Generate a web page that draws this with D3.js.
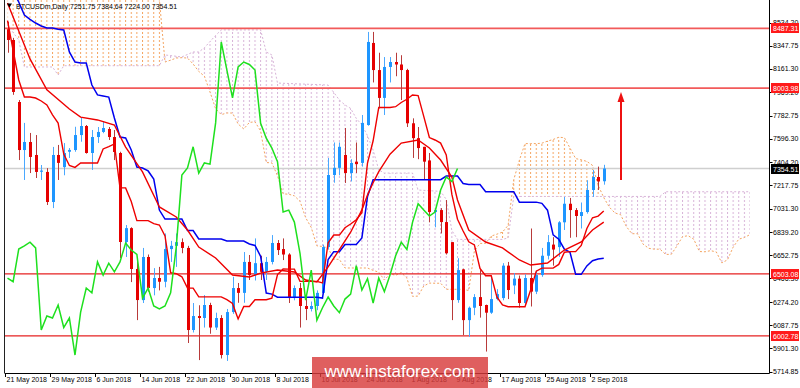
<!DOCTYPE html>
<html><head><meta charset="utf-8">
<script src="https://cdn.jsdelivr.net/npm/d3@7"></script>
<style>
html,body{margin:0;padding:0;background:#fff;}
svg{display:block;font-family:"Liberation Sans",Arial,sans-serif;}
</style></head><body>
<svg id="c" width="800" height="388"></svg>
<script>
const chartTitle = "BTCUSDm,Daily";
const firstDay = "2018-05-21";
const open = [8480,8393,7892,7504,7569,7464,7330,7327,7084,7464,
7366,7490,7504,7625,7698,7480,7609,7650,7674,7609,
7480,6761,6873,6543,6292,6640,6389,6470,6440,6704,
6730,6760,6713,6050,6163,6147,6252,6070,6147,5848,
6195,6389,6350,6600,6494,6590,6520,6600,6753,6704,
6660,6308,6389,6244,6220,6244,6350,6720,7302,7360,
7464,7318,7410,7400,7706,8369,8150,7925,8175,8215,
8195,8150,7720,7600,7530,7420,7003,7019,6922,6760,
6292,6540,6130,6230,6316,6252,6190,6300,6308,6570,
6410,6465,6268,6470,6360,6494,6650,6740,6720,6920,
7070,7019,6971,7003,7181,7286,7251.75];
const high = [8540,8410,7908,7723,7642,7625,7383,7358,7529,7545,
7560,7520,7692,7763,7706,7666,7690,7738,7690,7666,
7490,6898,6880,6600,6713,6660,6550,6560,6830,6770,
6830,6790,6730,6268,6250,6332,6270,6190,6170,6220,
6480,6430,6680,6656,6790,6650,6640,6817,6777,6790,
6670,6410,6430,6310,6280,6370,6740,7440,7565,7565,
7682,7430,7565,7787,8458,8458,8290,8255,8255,8290,
8270,8160,7760,7690,7530,7480,7035,7035,7100,6760,
6630,6545,6240,6340,6534,6255,6470,6380,6590,6600,
6510,6490,6500,6870,6530,6713,6817,6800,6930,7125,
7117,7035,7080,7260,7343,7370,7384.64];
const low = [8290,7950,7423,7262,7318,7278,7262,7060,7035,7262,
7300,7440,7490,7571,7475,7343,7561,7640,7585,7423,
6632,6640,6437,6130,6268,6360,6330,6370,6395,6600,
6560,6670,5945,6030,5807,6070,6020,6050,5820,5800,
6180,6270,6270,6454,6450,6454,6454,6580,6656,6615,
6268,6290,6070,6130,6200,6210,6340,6700,7240,7300,
7238,7250,7318,7370,7700,8050,7840,7787,8050,8100,
7908,7690,7440,7430,7262,6920,6880,6830,6660,6130,
6270,6009,5995,6170,6150,5876,6180,6290,6290,6300,
6340,6230,6250,6240,6340,6480,6620,6570,6640,6858,
6795,6800,6870,6990,7125,7181,7224.00];
const close = [8393,7973,7504,7569,7448,7327,7338,7084,7464,7400,
7480,7505,7625,7698,7480,7609,7650,7682,7609,7488,
6761,6873,6543,6292,6640,6389,6470,6440,6704,6730,
6760,6713,6050,6163,6147,6252,6070,6147,5848,6195,
6389,6350,6600,6494,6590,6520,6600,6753,6696,6660,
6308,6389,6244,6220,6244,6350,6720,7302,7360,7530,
7318,7400,7390,7723,8377,8150,7925,8175,8215,8195,
8150,7720,7600,7520,7410,7003,7019,6922,6670,6292,
6534,6130,6230,6316,6244,6190,6300,6340,6570,6373,
6465,6268,6470,6360,6494,6650,6760,6700,6920,7070,
7019,6971,7003,7181,7286,7250,7354.51];
const tenkan = [8550,8310,8070,7932,7932,7924,7900,7868,7788,7722,
7472,7379,7364,7399,7399,7399,7399,7513,7532,7553,
7198,7198,7088,6934,6934,6934,6910,6898,6810,6514,
6505,6480,6388,6388,6318,6318,6318,6318,6318,6295,
6265,6140,6240,6240,6295,6295,6295,6308,6498,6543,
6542,6542,6443,6443,6443,6443,6430,6755,6817,6817,
6876,6906,6941,6998,7399,7579,7848,7848,7848,7854,
7888,7914,7949,7944,7776,7605,7585,7560,7465,7145,
6945,6850,6763,6738,6548,6488,6488,6318,6253,6238,
6238,6238,6238,6373,6525,6550,6550,6550,6580,6678,
6683,6683,6733,6870,6957,6970,7012];
const kijun = [8878,8781,8700,8595,8560,8530,8506,8490,8490,8480,
8474,8296,8215,8207,8207,8029,7949,7940,7932,7763,
7609,7601,7504,7367,7359,7335,7270,7019,6946,6946,
6946,6946,6854,6854,6785,6785,6785,6785,6785,6769,
6769,6769,6769,6745,6733,6645,6349,6340,6315,6315,
6315,6315,6315,6315,6315,6315,6308,6620,6683,6683,
6741,6741,6741,6794,7129,7264,7264,7264,7264,7264,
7264,7264,7264,7264,7264,7264,7264,7264,7294,7294,
7294,7233,7226,7226,7226,7167,7167,7167,7167,7167,
7167,7083,7083,7083,7083,7073,7018,6818,6783,6703,
6678,6500,6500,6568,6610,6623,6630];
// [bar index, value]
const maLine = [[0,8692],[4,8240],[7,7990],[11,7835],[13,7770],[16,7747],[19,7706],[21,7528],[24,7327],[27,7044],[30,6963],[32,6858],[34,6720],[37,6632],[40,6494],[43,6478],[45,6510],[48,6535],[51,6519],[53,6454],[55,6438],[57,6560],[59,6700],[61,6840],[62,6930],[63,7020],[64,7140],[65,7240],[66,7330],[68,7470],[70,7560],[73,7585],[75,7520],[77,7423],[79,7286],[80,7100],[82,6858],[85,6761],[88,6713],[91,6616],[93,6575],[96,6591],[99,6696],[102,6761],[104,6858],[106,6922]];
const senkouA = [[0,9000],[26,9000],[27,8720],[28,8215],[29,8230],[30,8247],[31,8250],[32,8247],[33,8199],[34,8139],[35,8101],[36,7973],[37,7838],[38,7790],[39,7803],[40,7803],[41,7714],[42,7674],[43,7727],[44,7732],[45,7658],[46,7403],[47,7400],[48,7296],[49,7150],[50,7147],[51,7134],[52,7090],[53,6958],[54,6878],[55,6730],[56,6725],[57,6713],[58,6621],[59,6621],[60,6551],[61,6551],[62,6551],[63,6551],[64,6551],[65,6532],[66,6517],[67,6454],[68,6504],[69,6492],[70,6514],[71,6470],[72,6322],[73,6324],[74,6406],[75,6429],[76,6428],[77,6428],[78,6379],[79,6379],[80,6379],[81,6379],[82,6369],[83,6688],[84,6750],[85,6750],[86,6809],[87,6824],[88,6841],[89,6896],[90,7264],[91,7422],[92,7556],[93,7556],[94,7556],[95,7559],[96,7576],[97,7589],[98,7607],[99,7604],[100,7520],[101,7435],[102,7425],[103,7412],[104,7380],[105,7220],[106,7120],[107,7042],[108,6995],[109,6982],[110,6887],[111,6828],[112,6828],[113,6743],[114,6710],[115,6703],[116,6703],[117,6661],[118,6661],[119,6728],[120,6804],[121,6812],[122,6784],[123,6684],[124,6682],[125,6691],[126,6681],[127,6592],[128,6617],[129,6719],[130,6784],[131,6797],[132,6821]];
const senkouB = [[0,8514],[2,8393],[3,8175],[8,8175],[9,8110],[10,8185],[27,8185],[28,8272],[31,8256],[33,8296],[34,8296],[35,8330],[36,8380],[37,8430],[38,8474],[45,8474],[46,8296],[47,8272],[48,8045],[57,8029],[58,7970],[59,7908],[60,7868],[61,7840],[62,7760],[63,7706],[64,7620],[65,7504],[66,7343],[67,7318],[72,7318],[73,7181],[77,7170],[78,7105],[79,6854],[80,6782],[88,6782],[89,6794],[90,7129],[116,7129],[117,7167],[132,7167]];
const chikouShift = 26;
const levels = [8487.31, 8003.98, 6503.08, 6002.78];
const lastPrice = 7354.51;
const yTickLabels = ["8534.20","8347.75","8161.30","7969.20","7782.75","7596.30","7404.20","7217.75","7031.30","6839.20","6652.75","6466.30","6274.20","6087.75","5901.30","5714.85"];
const xTickLabels = ["21 May 2018","29 May 2018","6 Jun 2018","14 Jun 2018","22 Jun 2018","30 Jun 2018","8 Jul 2018","16 Jul 2018","24 Jul 2018","1 Aug 2018","9 Aug 2018","17 Aug 2018","25 Aug 2018","2 Sep 2018"];
const watermark = "www.instaforex.com";

const svg = d3.select("#c");
const L = 5, R = 769, T = 0, B = 373;
const day0 = d3.timeParse("%Y-%m-%d")(firstDay);
const dayAt = i => d3.timeDay.offset(day0, i);
const x = d3.scaleTime().domain([day0, dayAt(close.length - 1)]).range([7.5, 603.75]);
const y = d3.scaleLinear().domain([5714.85, 8534.20]).range([371.5, 22.5]);
const X = i => x(dayAt(i));

const defs = svg.append("defs");
defs.append("clipPath").attr("id","plot").append("rect").attr("x",L).attr("y",T).attr("width",R-L).attr("height",B-T);
function hatch(id, color){
  const p = defs.append("pattern").attr("id",id).attr("patternUnits","userSpaceOnUse")
    .attr("x", X(0)-0.5).attr("y",0).attr("width", X(1)-X(0)).attr("height",4);
  p.append("rect").attr("x",0).attr("y",0).attr("width",1).attr("height",2).attr("fill",color);
}
hatch("hOrange","#f4a460");
hatch("hThistle","#d8b4d8");
const areaBelow = d3.area().x(d=>X(d[0])).y0(420).y1(d=>y(d[1]));
const areaAbove = d3.area().x(d=>X(d[0])).y0(-120).y1(d=>y(d[1]));
defs.append("clipPath").attr("id","belowA").append("path").attr("d", areaBelow(senkouA));
defs.append("clipPath").attr("id","belowB").append("path").attr("d", areaBelow(senkouB));

svg.append("rect").attr("width",800).attr("height",388).attr("fill","#fff");
const g = svg.append("g").attr("clip-path","url(#plot)");

// cloud
g.append("path").attr("d", areaAbove(senkouB)).attr("fill","url(#hOrange)").attr("clip-path","url(#belowA)");
g.append("path").attr("d", areaAbove(senkouA)).attr("fill","url(#hThistle)").attr("clip-path","url(#belowB)");
const lineV = d3.line().x(d=>X(d[0])).y(d=>y(d[1]));
g.append("path").attr("d", lineV(senkouA)).attr("fill","none").attr("stroke","#f4a460").attr("stroke-width",1).attr("stroke-dasharray","2,2");
g.append("path").attr("d", lineV(senkouB)).attr("fill","none").attr("stroke","#d8b4d8").attr("stroke-width",1).attr("stroke-dasharray","2,2");

// current price line & levels
g.append("line").attr("x1",L).attr("x2",R).attr("y1",y(lastPrice)).attr("y2",y(lastPrice)).attr("stroke","#cfcfcf").attr("stroke-width",1.6);
levels.forEach((v,k)=>{
  g.append("line").attr("x1",L).attr("x2",R).attr("y1",y(v)).attr("y2",y(v))
   .attr("stroke", k<2 ? "#f25a5a" : "#e62222").attr("stroke-width", k<2 ? 1.7 : 1.2);
});

// candles
const idx = d3.range(close.length);
const cx = i => Math.round(X(i));
g.selectAll(".wick").data(idx).join("line").attr("class","wick")
  .attr("x1",i=>cx(i)+0.5).attr("x2",i=>cx(i)+0.5)
  .attr("y1",i=>y(high[i])).attr("y2",i=>y(low[i]))
  .attr("stroke",i=>close[i]>=open[i]?"#4aa8ff":"#b83a3a").attr("stroke-width",1);
g.selectAll(".body").data(idx).join("rect").attr("class","body")
  .attr("x",i=>cx(i)-1).attr("width",3)
  .attr("y",i=>y(Math.max(open[i],close[i])))
  .attr("height",i=>Math.max(1.2, Math.abs(y(open[i])-y(close[i]))))
  .attr("fill",i=>close[i]>=open[i]?"#1e96ff":"#e60000");

// indicator lines
const lineI = d3.line().x((d,i)=>X(i)).y(d=>y(d));
g.append("path").attr("d", lineI(kijun)).attr("fill","none").attr("stroke","#0000ee").attr("stroke-width",1.5);
g.append("path").attr("d", lineV(maLine)).attr("fill","none").attr("stroke","#ee0000").attr("stroke-width",1.4);
g.append("path").attr("d", lineI(tenkan)).attr("fill","none").attr("stroke","#ee0000").attr("stroke-width",1.4);
const chikou = d3.range(0, close.length - chikouShift).map(i=>[i, close[i+chikouShift]]);
g.append("path").attr("d", lineV(chikou)).attr("fill","none").attr("stroke","#1ee01e").attr("stroke-width",1.5);

// arrow
const ax = 621;
g.append("line").attr("x1",ax).attr("x2",ax).attr("y1",180).attr("y2",100).attr("stroke","#ee1111").attr("stroke-width",2);
g.append("path").attr("d",`M${ax-3.5},102 L${ax},92 L${ax+3.5},102 Z`).attr("fill","#ee1111");

// frame
svg.append("line").attr("x1",4.5).attr("x2",4.5).attr("y1",0).attr("y2",B).attr("stroke","#222");
svg.append("line").attr("x1",4.5).attr("x2",R+0.5).attr("y1",B+0.5).attr("y2",B+0.5).attr("stroke","#000");
svg.append("line").attr("x1",R+0.5).attr("x2",R+0.5).attr("y1",0).attr("y2",B+0.5).attr("stroke","#000");

// y axis labels
const yAxis = svg.append("g").style("font-size","7px");
yTickLabels.forEach(t=>{
  const yy = y(+t);
  yAxis.append("line").attr("x1",R).attr("x2",R+3.5).attr("y1",Math.round(yy)+0.5).attr("y2",Math.round(yy)+0.5).attr("stroke","#000");
  yAxis.append("text").attr("x",773).attr("y",yy+2.6).attr("fill","#000").text(t);
});
function priceBox(v, fill){
  const yy = Math.round(y(v));
  yAxis.append("rect").attr("x",771).attr("y",yy-5).attr("width",28).attr("height",10).attr("fill",fill);
  yAxis.append("text").attr("x",773).attr("y",yy+2.6).attr("fill","#fff").text(v.toFixed(2));
}
levels.forEach(v=>priceBox(v,"#ff1a1a"));
priceBox(lastPrice,"#000");

// x axis labels
const parseLbl = d3.timeParse("%d %b %Y");
const xAxis = svg.append("g").style("font-size","7px");
xTickLabels.forEach(t=>{
  const xx = Math.round(x(parseLbl(t))) - 2.5;
  xAxis.append("line").attr("x1",xx).attr("x2",xx).attr("y1",B).attr("y2",B+4).attr("stroke","#000");
  xAxis.append("text").attr("x",xx+1).attr("y",382).attr("fill","#000").text(t);
});

// title
svg.append("path").attr("d","M7,3.5 L12,3.5 L9.5,7.5 Z").attr("fill","#000");
svg.append("text").attr("x",16).attr("y",9).style("font-size","7px").attr("fill","#000")
  .text(chartTitle + "  " + [open[open.length-1], high[high.length-1], low[low.length-1], close[close.length-1]].map(v=>v.toFixed(2)).join(" "));

// watermark
svg.append("rect").attr("x",312).attr("y",357).attr("width",176).attr("height",31).attr("fill","#d83c3c").attr("opacity",0.82);
svg.append("text").attr("x",400).attr("y",377).attr("text-anchor","middle").style("font-size","17px").attr("fill","#fff").text(watermark);
</script>
</body></html>
